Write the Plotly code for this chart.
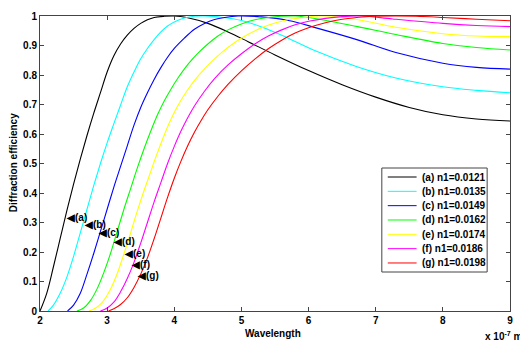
import plotly.graph_objects as go

# ---------------- data ----------------
labels = ["(a) n1=0.0121", "(b) n1=0.0135", "(c) n1=0.0149", "(d) n1=0.0162",
          "(e) n1=0.0174", "(f) n1=0.0186", "(g) n1=0.0198"]
tags = ["(a)", "(b)", "(c)", "(d)", "(e)", "(f)", "(g)"]
colors = ["#000000", "#00FFFF", "#0000FF", "#00FF00", "#FFFF00", "#FF00FF", "#FF0000"]

xa = [2.0, 2.1, 2.2, 2.3, 2.4, 2.5, 2.6, 2.7, 2.8, 2.9, 3.0, 3.1, 3.2, 3.3, 3.4, 3.5, 3.6, 3.7,
      3.85, 4.0, 4.2, 4.5, 4.8, 5.1, 5.5, 6.0, 6.5, 7.0, 7.5, 8.0, 8.5, 9.0]
ya = [0, 0.06, 0.15, 0.245, 0.34, 0.43, 0.515, 0.595, 0.67, 0.74, 0.81, 0.865, 0.905, 0.935,
      0.958, 0.975, 0.987, 0.995, 0.999, 1.0, 0.994, 0.975, 0.946, 0.913, 0.868, 0.815, 0.767,
      0.725, 0.69, 0.665, 0.651, 0.644]

xb = [2.12, 2.2, 2.3, 2.4, 2.5, 2.6, 2.7, 2.8, 2.9, 3.0, 3.1, 3.2, 3.3, 3.4, 3.5, 3.6, 3.7, 3.8,
      3.9, 4.0, 4.15, 4.3, 4.45, 4.7, 5.0, 5.3, 5.6, 6.1, 6.7, 7.3, 8.0, 8.5, 9.0]
yb = [0, 0.02, 0.06, 0.115, 0.185, 0.265, 0.345, 0.425, 0.5, 0.57, 0.635, 0.698, 0.76, 0.81,
      0.855, 0.89, 0.92, 0.946, 0.966, 0.98, 0.993, 0.999, 1.0, 0.996, 0.985, 0.963, 0.935,
      0.882, 0.83, 0.79, 0.76, 0.748, 0.74]

xc = [2.41, 2.5, 2.6, 2.7, 2.8, 2.9, 3.0, 3.1, 3.2, 3.3, 3.4, 3.5, 3.6, 3.7, 3.8, 3.9, 4.0,
      4.15, 4.3, 4.45, 4.6, 4.75, 4.95, 5.3, 5.7, 6.14, 6.73, 7.3, 8.0, 8.5, 9.0]
yc = [0, 0.02, 0.06, 0.125, 0.195, 0.27, 0.345, 0.42, 0.49, 0.56, 0.63, 0.69, 0.74, 0.785,
      0.825, 0.86, 0.89, 0.925, 0.955, 0.975, 0.988, 0.995, 1.0, 0.997, 0.985, 0.958, 0.919,
      0.876, 0.84, 0.826, 0.82]

xd = [2.55, 2.65, 2.75, 2.85, 2.95, 3.05, 3.15, 3.25, 3.35, 3.45, 3.55, 3.65, 3.75, 3.85, 3.95,
      4.05, 4.2, 4.35, 4.5, 4.65, 4.8, 5.0, 5.2, 5.4, 5.6, 5.8, 6.14, 6.73, 7.3, 8.0, 8.5, 9.0]
yd = [0, 0.01, 0.035, 0.075, 0.13, 0.195, 0.27, 0.345, 0.415, 0.485, 0.55, 0.61, 0.665, 0.712,
      0.752, 0.788, 0.835, 0.873, 0.905, 0.932, 0.953, 0.973, 0.987, 0.995, 0.999, 1.0, 0.99,
      0.964, 0.937, 0.907, 0.893, 0.885]

xe = [2.73, 2.83, 2.93, 3.03, 3.13, 3.23, 3.33, 3.43, 3.53, 3.63, 3.73, 3.83, 3.93, 4.05, 4.2,
      4.35, 4.5, 4.7, 4.9, 5.1, 5.3, 5.5, 5.7, 5.95, 6.2, 6.5, 6.8, 7.3, 8.0, 8.5, 9.0]
ye = [0, 0.01, 0.03, 0.065, 0.115, 0.18, 0.25, 0.325, 0.395, 0.46, 0.525, 0.585, 0.64, 0.695,
      0.75, 0.795, 0.833, 0.875, 0.91, 0.938, 0.96, 0.976, 0.988, 0.996, 1.0, 0.996, 0.985,
      0.962, 0.94, 0.932, 0.93]

xf = [2.9, 3.0, 3.1, 3.2, 3.3, 3.4, 3.5, 3.6, 3.7, 3.8, 3.9, 4.0, 4.1, 4.2, 4.3, 4.45, 4.6, 4.8,
      5.0, 5.2, 5.4, 5.6, 5.8, 6.0, 6.25, 6.5, 6.8, 7.25, 8.0, 8.5, 9.0]
yf = [0, 0.01, 0.03, 0.065, 0.11, 0.165, 0.23, 0.3, 0.37, 0.435, 0.5, 0.558, 0.61, 0.655, 0.695,
      0.745, 0.788, 0.834, 0.872, 0.905, 0.932, 0.953, 0.97, 0.982, 0.992, 0.998, 1.0, 0.99,
      0.975, 0.968, 0.964]

xg = [3.02, 3.1, 3.2, 3.3, 3.4, 3.5, 3.6, 3.7, 3.8, 3.9, 4.0, 4.1, 4.2, 4.3, 4.4, 4.5, 4.65,
      4.8, 5.0, 5.2, 5.4, 5.6, 5.8, 6.0, 6.25, 6.5, 6.75, 7.0, 7.3, 7.6, 8.0, 8.5, 9.0]
yg = [0, 0.008, 0.022, 0.045, 0.08, 0.125, 0.18, 0.245, 0.315, 0.385, 0.45, 0.508, 0.56, 0.606,
      0.646, 0.682, 0.728, 0.768, 0.814, 0.854, 0.889, 0.918, 0.942, 0.96, 0.977, 0.989, 0.996,
      0.999, 1.0, 0.999, 0.995, 0.989, 0.984]

label_x = [2.39, 2.66, 2.86, 3.08, 3.25, 3.35, 3.45]
label_y = [0.316, 0.294, 0.265, 0.235, 0.196, 0.156, 0.119]

x_ticks = [2, 3, 4, 5, 6, 7, 8, 9]
y_ticks = [0, 0.1, 0.2, 0.3, 0.4, 0.5, 0.6, 0.7, 0.8, 0.9, 1]
y_ticktext = ["0", "0.1", "0.2", "0.3", "0.4", "0.5", "0.6", "0.7", "0.8", "0.9", "1"]

series_x = [xa, xb, xc, xd, xe, xf, xg]
series_y = [ya, yb, yc, yd, ye, yf, yg]

# ---------------- layout geometry ----------------
W, H = 520, 341
L, R, T, B = 40, 7, 16, 30
pw, ph = W - L - R, H - T - B
FONT = "Liberation Sans, Arial, sans-serif"
AX = "#444444"


def px2x(px):
    return (px - L) / pw


def py2y(py):
    return (H - B - py) / ph


fig = go.Figure()
for xs, ys, c, name in zip(series_x, series_y, colors, labels):
    fig.add_trace(go.Scatter(x=xs, y=ys, mode="lines", name=name,
                             line=dict(color=c, width=1.1, shape="spline", smoothing=1.0),
                             showlegend=False, hoverinfo="skip"))

annotations = []
for lx, ly, tg in zip(label_x, label_y, tags):
    annotations.append(dict(x=lx, y=ly, xref="x", yref="y", text="◀" + tg, showarrow=False,
                            xanchor="left", yanchor="middle", xshift=-2,
                            font=dict(family=FONT, size=10, color="black", weight="bold")))

# custom legend (box, line samples, texts)
shapes = [dict(type="rect", xref="paper", yref="paper",
               x0=px2x(384), x1=px2x(490), y0=py2y(272), y1=py2y(168),
               line=dict(color=AX, width=1), fillcolor="white", layer="above")]
row0, dy = 177, 14.33
for i, (c, name) in enumerate(zip(colors, labels)):
    yy = py2y(row0 + i * dy)
    shapes.append(dict(type="line", xref="paper", yref="paper", x0=px2x(390), x1=px2x(419),
                       y0=yy, y1=yy, line=dict(color=c, width=1), layer="above"))
    annotations.append(dict(x=px2x(422), y=yy, xref="paper", yref="paper", text=name,
                            showarrow=False, xanchor="left", yanchor="middle",
                            font=dict(family=FONT, size=10, color="black", weight="bold")))

annotations.append(dict(x=px2x(274), y=py2y(333), xref="paper", yref="paper", text="Wavelength",
                        showarrow=False, xanchor="center", yanchor="middle",
                        font=dict(family=FONT, size=10, color="black", weight="bold")))
annotations.append(dict(x=px2x(13), y=py2y(163), xref="paper", yref="paper",
                        text="Diffraction efficiency", textangle=-90,
                        showarrow=False, xanchor="center", yanchor="middle",
                        font=dict(family=FONT, size=10, color="black", weight="bold")))
annotations.append(dict(x=px2x(486), y=py2y(336), xref="paper", yref="paper",
                        text="x 10<sup>-7</sup> m",
                        showarrow=False, xanchor="left", yanchor="middle",
                        font=dict(family=FONT, size=10, color="black", weight="bold")))

fig.update_layout(
    width=W, height=H,
    margin=dict(l=L, r=R, t=T, b=B, pad=0),
    paper_bgcolor="white", plot_bgcolor="white",
    shapes=shapes, annotations=annotations,
    xaxis=dict(range=[2, 9], tickvals=x_ticks, ticks="inside", ticklen=4, tickcolor=AX,
               showline=True, linecolor=AX, linewidth=1, mirror="ticks", showgrid=False,
               zeroline=False, tickfont=dict(family=FONT, size=10, color="black", weight="bold")),
    yaxis=dict(range=[0, 1], tickvals=y_ticks, ticktext=y_ticktext, ticks="inside", ticklen=4,
               tickcolor=AX, showline=True, linecolor=AX, linewidth=1, mirror="ticks",
               showgrid=False, zeroline=False,
               tickfont=dict(family=FONT, size=10, color="black", weight="bold")),
)

fig.write_html("out.html")
